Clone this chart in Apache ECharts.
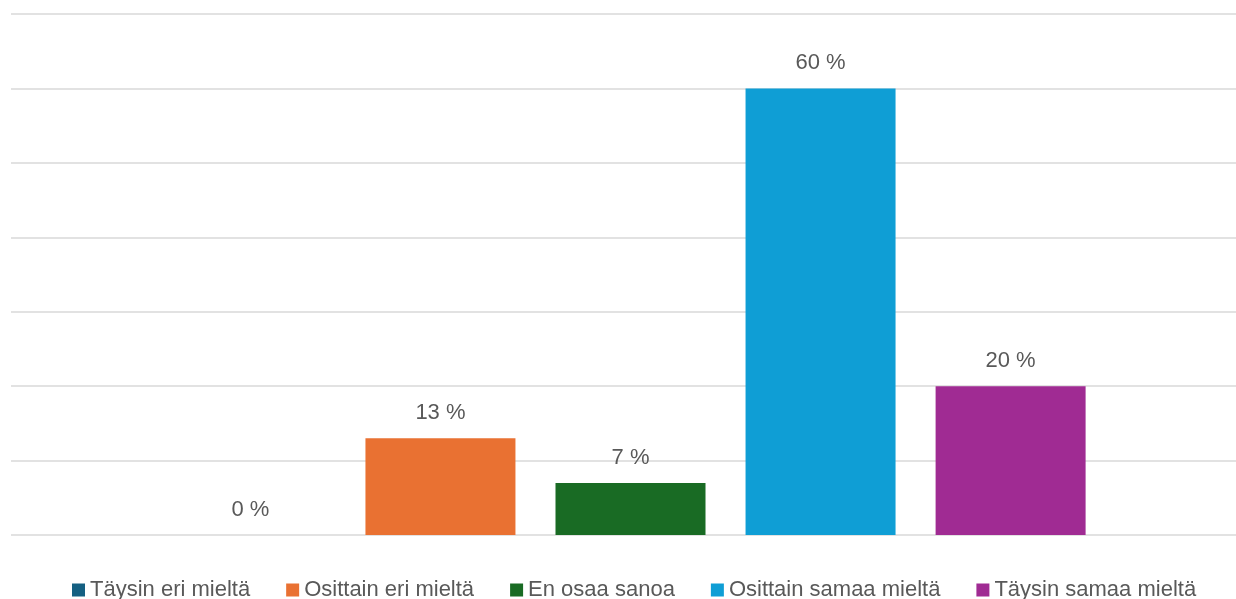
<!DOCTYPE html>
<html>
<head>
<meta charset="utf-8">
<script src="https://cdn.jsdelivr.net/npm/echarts@6/dist/echarts.min.js"></script>
<style>html,body{margin:0;padding:0;background:#fff;}#c{width:1236px;height:599px;}</style>
</head>
<body>
<div id="c"></div>
<script>
const categories = [''];
const seriesNames = ['Täysin eri mieltä', 'Osittain eri mieltä', 'En osaa sanoa', 'Osittain samaa mieltä', 'Täysin samaa mieltä'];
const seriesValues = [0, 13, 7, 60, 20];
const seriesColors = ['#156082', '#E97132', '#196B24', '#0F9ED5', '#A02B93'];

const chart = echarts.init(document.getElementById('c'), null, {renderer: 'canvas'});
const font = '"Liberation Sans", Arial, sans-serif';
const yBase = {
  type: 'value', min: 0, max: 70, interval: 10,
  axisLabel: {show: false}, axisLine: {show: false}, axisTick: {show: false}
};
const xBase = {
  type: 'category', data: categories,
  axisLine: {show: false}, axisTick: {show: false}, axisLabel: {show: false}
};
chart.setOption({
  animation: false,
  backgroundColor: '#ffffff',
  grid: [
    {left: 11, right: 0, top: 14, bottom: 64},
    {left: 25, right: 0, top: 14, bottom: 64}
  ],
  legend: {
    left: 67, top: 574,
    itemWidth: 13, itemHeight: 13, itemGap: 36,
    icon: 'rect',
    textStyle: {color: '#595959', fontSize: 22, fontFamily: font},
    data: seriesNames
  },
  xAxis: [
    Object.assign({gridIndex: 0}, xBase),
    Object.assign({gridIndex: 1}, xBase)
  ],
  yAxis: [
    Object.assign({gridIndex: 0, splitLine: {lineStyle: {color: '#d9d9d9', width: 1.5}}}, yBase),
    Object.assign({gridIndex: 1, splitLine: {show: false}}, yBase)
  ],
  series: seriesNames.map((n, i) => ({
    name: n, type: 'bar', data: [seriesValues[i]],
    xAxisIndex: 1, yAxisIndex: 1,
    barWidth: 150, barGap: '26.7%',
    itemStyle: {color: seriesColors[i]},
    label: {show: true, position: 'top', distance: 14, formatter: '{c} %', color: '#595959', fontSize: 22, fontFamily: font}
  }))
});
</script>
</body>
</html>
